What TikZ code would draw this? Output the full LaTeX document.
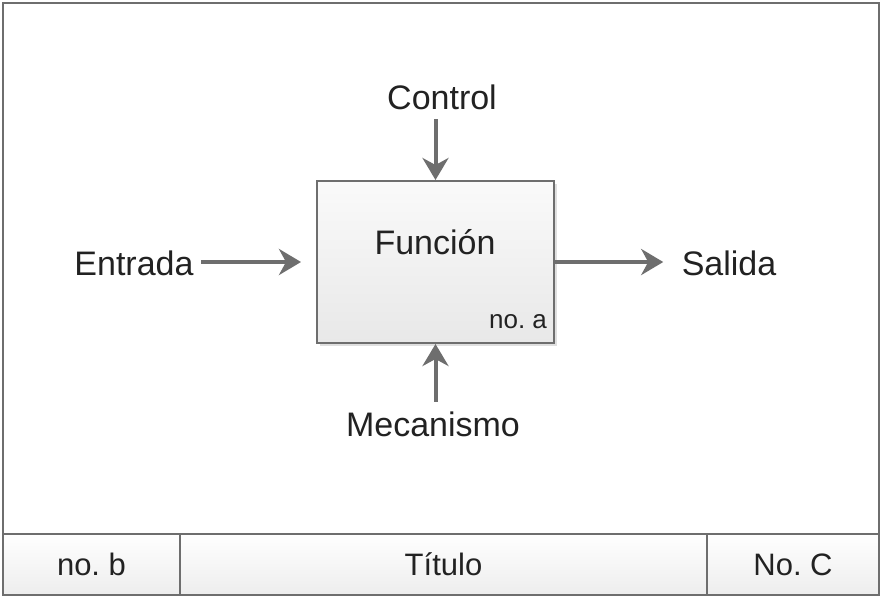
\documentclass[tikz,border=0pt]{standalone}
\usepackage{fontspec}
\setmainfont{Liberation Sans}
\usetikzlibrary{arrows.meta, shadows}
\definecolor{linea}{HTML}{6E6E6E}
\definecolor{texto}{HTML}{222222}
\frenchspacing

\begin{document}
\begin{tikzpicture}[x=1pt, y=-1pt, text=texto,
    font=\fontsize{34}{40}\selectfont,
    flecha/.style={-{Stealth[length=22pt, width=26pt, inset=7pt]}, line width=4pt, draw=linea},
    caja/.style={draw=linea, line width=2pt, top color=black!2, bottom color=black!9,
        drop shadow={shadow xshift=3pt, shadow yshift=-3pt, opacity=.25}},
    celda/.style={draw=linea, line width=2pt, top color=white, bottom color=black!7,
        font=\fontsize{31}{36}\selectfont}]

    \useasboundingbox (0,0) rectangle (882,597);

    % Marco
    \draw[linea, line width=2pt, fill=white] (3,3) rectangle (879,595);

    % Caja principal
    \node[caja, minimum width=237pt, minimum height=162pt] (fun) at (435.5,262) {};
    \node (funtxt) at (435,242) {Función};
    \node[font=\fontsize{26}{30}\selectfont] (noa) at (518,322) {no. a};

    % Nodos exteriores
    \node (ctrl) at (442,97) {Control};
    \node (ent) at (134,263) {Entrada};
    \node (sal) at (729,263) {Salida};
    \node (mec) at (433,424) {Mecanismo};

    % Flechas
    \draw[flecha, shorten <=6pt] (ctrl.south -| fun.north) -- (fun.north);
    \draw[flecha, shorten <=4pt, shorten >=15pt] (fun.west -| ent.east) -- (fun.west);
    \draw[flecha, shorten >=15pt] (fun.east) -- (fun.east -| sal.west);
    \draw[flecha, shorten <=6pt] (mec.north -| fun.south) -- (fun.south);

    % Barra inferior
    \node[celda, minimum width=177pt, minimum height=61pt] (nob) at (91.5,564.5) {no. b};
    \node[celda, minimum width=527pt, minimum height=61pt] (tit) at (443.5,564.5) {Título};
    \node[celda, minimum width=172pt, minimum height=61pt] (noc) at (793,564.5) {No. C};

\end{tikzpicture}
\end{document}
